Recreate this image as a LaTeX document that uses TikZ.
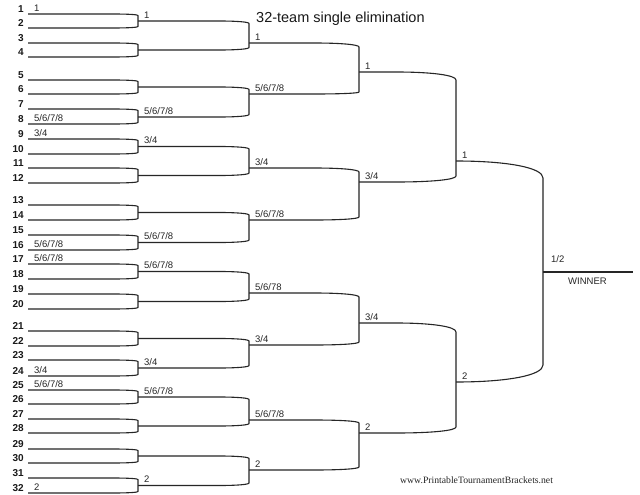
\documentclass[tikz,border=0pt]{standalone}
\usepackage{fontspec}
\setmainfont{Liberation Sans}
\newfontfamily\webfont{Liberation Serif}
\tikzset{
  bl/.style={line width=1.1pt, draw=black!85, line join=round},
  lbl/.style={font=\fontsize{9.5}{11}\selectfont, inner sep=0pt, anchor=base west, text=black!85},
  team/.style={font=\fontsize{10}{12}\selectfont\bfseries, inner sep=0pt, anchor=base east, text=black!90},
}
% xL xR yT yB vT vB L
\newcommand\brk[7]{%
  \draw[bl] (#1,#3) -- ({#2-#7},#3) .. controls ({#2-0.4*#7},#3) and (#2,{#3+0.4*(#5-#3)}) .. (#2,#5)
    -- (#2,#6) .. controls (#2,{#4-0.4*(#4-#6)}) and ({#2-0.4*#7},#4) .. ({#2-#7},#4) -- (#1,#4);}
\newcommand\lab[4]{\node[lbl] (#1) at (#2,{#3-2.6}) {#4};}
\begin{document}
\begin{tikzpicture}[x=1pt,y=-1pt]
\useasboundingbox[fill=white] (0,0) rectangle (640,495);
% team numbers
\foreach \y [count=\i] in {14,28,43,57,80,94,109,124,139,154,168,183,205,220,235,250,264,279,294,309,331,346,360,376,390,404,419,433,449,463,478,493}
  \node[team] (t\i) at (24,{\y-1.5}) {\i};
% round 1
\brk{28}{138}{14}{28}{15.5}{26.5}{25}
\brk{28}{138}{43}{57}{44.5}{55.5}{25}
\brk{28}{138}{80}{94}{81.5}{92.5}{25}
\brk{28}{138}{109}{124}{110.5}{122.5}{25}
\brk{28}{138}{139}{154}{140.5}{152.5}{25}
\brk{28}{138}{168}{183}{169.5}{181.5}{25}
\brk{28}{138}{205}{220}{206.5}{218.5}{25}
\brk{28}{138}{235}{250}{236.5}{248.5}{25}
\brk{28}{138}{264}{279}{265.5}{277.5}{25}
\brk{28}{138}{294}{309}{295.5}{307.5}{25}
\brk{28}{138}{331}{346}{332.5}{344.5}{25}
\brk{28}{138}{360}{376}{361.5}{374.5}{25}
\brk{28}{138}{390}{404}{391.5}{402.5}{25}
\brk{28}{138}{419}{433}{420.5}{431.5}{25}
\brk{28}{138}{449}{463}{450.5}{461.5}{25}
\brk{28}{138}{478}{493}{479.5}{491.5}{25}
% round 2
\brk{138}{249}{21}{50}{23.5}{47.5}{30}
\brk{138}{249}{87}{117}{89.5}{114.5}{30}
\brk{138}{249}{146.5}{175.5}{149}{173}{30}
\brk{138}{249}{212.5}{242.5}{215}{240}{30}
\brk{138}{249}{271.5}{301.5}{274}{299}{30}
\brk{138}{249}{338.5}{368}{341}{365.5}{30}
\brk{138}{249}{397}{426}{399.5}{423.5}{30}
\brk{138}{249}{456}{485.5}{458.5}{483}{30}
% round 3
\brk{249}{359}{43}{94}{47}{92}{45}
\brk{249}{359}{168}{220}{172}{217}{45}
\brk{249}{359}{293}{345}{297}{342}{45}
\brk{249}{359}{420}{470}{423}{467}{45}
% round 4
\brk{359}{456}{72}{182}{80}{176}{60}
\brk{359}{456}{323}{433}{332}{427}{60}
% round 5
\brk{456}{543}{161}{382}{178}{365}{87}
% final
\coordinate (f1) at (543,272);
\coordinate (f2) at (633,272);
\draw[bl] (f1) -- (f2);
% labels round 1
\lab{a1}{34}{14}{1}
\lab{a2}{34}{124}{5/6/7/8}
\lab{a3}{34}{139}{3/4}
\lab{a4}{34}{250}{5/6/7/8}
\lab{a5}{34}{264}{5/6/7/8}
\lab{a6}{34}{376}{3/4}
\lab{a7}{34}{390}{5/6/7/8}
\lab{a8}{34}{493}{2}
% labels round 2
\lab{b1}{144}{21}{1}
\lab{b2}{144}{117}{5/6/7/8}
\lab{b3}{144}{146.5}{3/4}
\lab{b4}{144}{242.5}{5/6/7/8}
\lab{b5}{144}{271.5}{5/6/7/8}
\lab{b6}{144}{368}{3/4}
\lab{b7}{144}{397}{5/6/7/8}
\lab{b8}{144}{485.5}{2}
% labels round 3
\lab{c1}{255}{43}{1}
\lab{c2}{255}{94}{5/6/7/8}
\lab{c3}{255}{168}{3/4}
\lab{c4}{255}{220}{5/6/7/8}
\lab{c5}{255}{293}{5/6/78}
\lab{c6}{255}{345}{3/4}
\lab{c7}{255}{420}{5/6/7/8}
\lab{c8}{255}{470}{2}
% labels round 4
\lab{d1}{365}{72}{1}
\lab{d2}{365}{182}{3/4}
\lab{d3}{365}{323}{3/4}
\lab{d4}{365}{433}{2}
% labels round 5
\lab{e1}{462}{161}{1}
\lab{e2}{462}{382}{2}
% final
\node[lbl] (fin) at (551,262.5) {1/2};
\node[lbl] (win) at (568,284.3) {WINNER};
\node[inner sep=0pt, anchor=base west, font=\fontsize{14.5}{16}\selectfont, text=black!90] (title) at (256,23) {32-team single elimination};
\node[inner sep=0pt, anchor=base west, font=\webfont\fontsize{9.7}{11}\selectfont, text=black!85] (web) at (400,483) {www.PrintableTournamentBrackets.net};
\end{tikzpicture}
\end{document}
